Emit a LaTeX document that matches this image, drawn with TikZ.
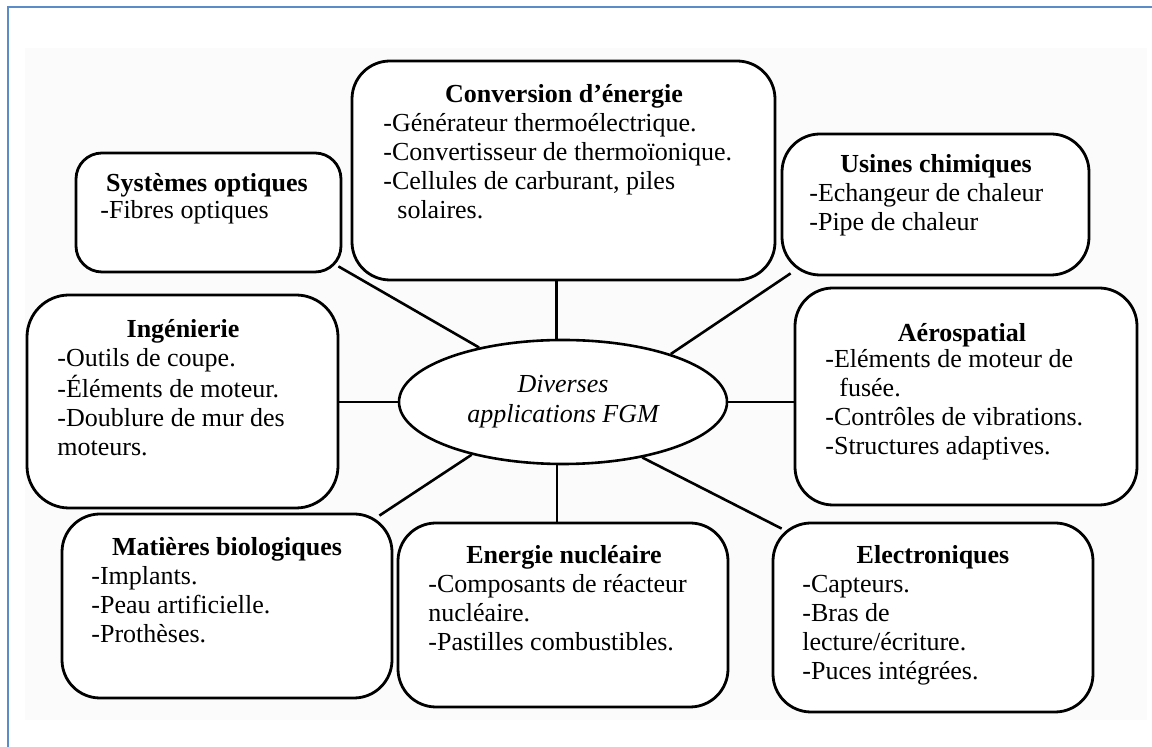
\documentclass[tikz,border=0pt]{standalone}
\usepackage{fontspec}
\setmainfont{Liberation Serif}
\usetikzlibrary{fit,calc,shapes.geometric}
\definecolor{frameblue}{HTML}{5B8BC9}
\newcommand\itemlines[1]{\begin{tabular}[t]{@{}l@{}}#1\end{tabular}}
\begin{document}
\begin{tikzpicture}[x=0.5pt,y=-0.5pt,
  box/.style={draw=black, line width=1.4pt, rounded corners=19pt, inner sep=0pt, fill=white},
  conn/.style={draw=black, line width=1.3pt},
  ttl/.style={anchor=base, inner sep=0pt, font=\fontsize{13}{14.4}\selectfont\bfseries},
  items/.style={anchor=base west, inner sep=0pt, font=\fontsize{13}{14.4}\selectfont},
]
\useasboundingbox (0,0) rectangle (1152,747);
\fill[black!1.5] (25,48) rectangle (1147,720);
\draw[frameblue, line width=1pt] (8,747) -- (8,7) -- (1152,7);

% boxes
\node[box, rounded corners=13pt, fit={(76,153) (341,272)}] (opt) {};
\node[box, fit={(352,61) (775,280)}] (conv) {};
\node[box, fit={(782,134) (1089,275)}] (usi) {};
\node[box, rounded corners=21pt, fit={(27,295) (338,508)}] (ing) {};
\node[box, fit={(795,288) (1137,505)}] (aer) {};
\node[box, fit={(62,514) (392,698)}] (mat) {};
\node[box, fit={(398,523) (728,707)}] (nuc) {};
\node[box, fit={(773,523) (1093,712)}] (ele) {};

\node[draw=black, line width=1.3pt, fill=white, ellipse, inner sep=0pt,
      minimum width=164pt, minimum height=62pt, align=center,
      font=\fontsize{13}{15}\selectfont\itshape] (fgm) at (563,402)
      {Diverses\\applications FGM};

% texts
\node[ttl] (optT) at (207,192) {Systèmes optiques};
\node[items] (optI) at (100,219) {\itemlines{-Fibres optiques}};

\node[ttl] (convT) at (564,103) {Conversion d’énergie};
\node[items] (convI) at (383,132) {\itemlines{-Générateur thermoélectrique.\\-Convertisseur de thermoïonique.\\-Cellules de carburant, piles\\\hspace*{7pt}solaires.}};

\node[ttl] (usiT) at (936,173) {Usines chimiques};
\node[items] (usiI) at (809,202) {\itemlines{-Echangeur de chaleur\\-Pipe de chaleur}};

\node[ttl] (ingT) at (183,338) {Ingénierie};
\node[items] (ingI) at (57,367) {\itemlines{-Outils de coupe.\\-Éléments de moteur.\\-Doublure de mur des\\moteurs.}};

\node[ttl] (aerT) at (962,342) {Aérospatial};
\node[items] (aerI) at (825,368) {\itemlines{-Eléments de moteur de\\\hspace*{7pt}fusée.\\-Contrôles de vibrations.\\-Structures adaptives.}};

\node[ttl] (matT) at (227,556) {Matières biologiques};
\node[items] (matI) at (91,585) {\itemlines{-Implants.\\-Peau artificielle.\\-Prothèses.}};

\node[ttl] (nucT) at (564,564) {Energie nucléaire};
\node[items] (nucI) at (428,593) {\itemlines{-Composants de réacteur\\nucléaire.\\-Pastilles combustibles.}};

\node[ttl] (eleT) at (933,564) {Electroniques};
\node[items] (eleI) at (802,593) {\itemlines{-Capteurs.\\-Bras de\\lecture/écriture.\\-Puces intégrées.}};

% connectors
\coordinate (cc) at ($(conv.south)+(-7,0)$);
\draw[conn] (cc) -- (cc |- fgm.north);
\coordinate (cn) at ($(nuc.north)+(-6,0)$);
\draw[conn] (cn) -- (cn |- fgm.south);
\draw[conn] ($(opt.south east)+(-4,-7)$) -- (fgm.147);
\draw[conn] ($(usi.south west)+(10,-3)$) -- (fgm.24);
\draw[conn] (fgm.west) -- (fgm.west -| ing.east);
\draw[conn] (fgm.east) -- (fgm.east -| aer.west);
\draw[conn] ($(mat.north east)+(-14,3)$) -- (fgm.210);
\draw[conn] ($(ele.north west)+(10,7)$) -- (fgm.325);
\end{tikzpicture}
\end{document}
